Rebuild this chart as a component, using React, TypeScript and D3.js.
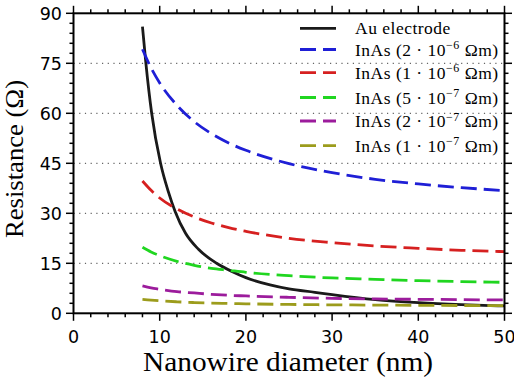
import React from "react";
import * as d3 from "d3";

const inasD = [8, 9, 10, 12, 14, 16, 18, 20, 25, 30, 35, 40, 45, 50];
const inas2e6 = [79.2, 73.6, 69.1, 62.4, 57.5, 53.9, 51.1, 48.9, 44.9, 42.2, 40.2, 38.8, 37.7, 36.8];
const inas1e6 = [39.7, 36.9, 34.6, 31.3, 28.9, 27.1, 25.7, 24.6, 22.5, 21.2, 20.2, 19.5, 18.9, 18.5];
const inas5e7 = [19.8, 18.4, 17.3, 15.6, 14.4, 13.5, 12.9, 12.3, 11.3, 10.6, 10.2, 9.8, 9.5, 9.3];
const inas2e7 = [8.2, 7.6, 7.2, 6.5, 6.1, 5.7, 5.4, 5.2, 4.8, 4.5, 4.3, 4.2, 4.1, 4.0];
const inas1e7 = [4.2, 3.95, 3.75, 3.45, 3.23, 3.07, 2.95, 2.85, 2.66, 2.54, 2.46, 2.39, 2.34, 2.3];

const auD = [8.0, 8.4, 9.07, 10.1, 11.0, 11.8, 13, 14.5, 16.6, 18.5, 20, 22.8, 25, 28, 30, 35, 40, 45, 50];
const auR = [86, 75, 60, 45, 36.5, 30.5, 24, 19.2, 15, 12.4, 10.7, 8.5, 7.3, 6.3, 5.6, 4.1, 3.2, 2.6, 2.2];

const xTicks = [0, 10, 20, 30, 40, 50];
const yTicks = [0, 15, 30, 45, 60, 75, 90];
const gridValues = [15, 30, 45, 60, 75];

const legendNames = ["Au electrode", "InAs", "InAs", "InAs", "InAs", "InAs"];
const legendMantissa = ["", "2", "1", "5", "2", "1"];
const legendExponent = ["", "−6", "−6", "−7", "−7", "−7"];
const colors = ["#1a1a1a", "#1f1fd6", "#d62020", "#20d620", "#9c1c9c", "#9c9c1c"];

const W = 514;
const H = 378;
const left = 73.5, right = 504.5, top = 13.3, bottom = 313.3;
const SERIF = "'Liberation Serif', 'Times New Roman', Times, serif";
const SANS = "'DejaVu Sans', sans-serif";

export default function App() {
  const x = d3.scaleLinear().domain([0, 50]).range([left, right]);
  const y = d3.scaleLinear().domain([0, 90]).range([bottom, top]);
  const line = d3
    .line<[number, number]>()
    .x((p) => x(p[0]))
    .y((p) => y(p[1]))
    .curve(d3.curveMonotoneX);

  const series: { pts: [number, number][]; dashed: boolean }[] = [
    { pts: auD.map((d, i) => [d, auR[i]] as [number, number]), dashed: false },
    ...[inas2e6, inas1e6, inas5e7, inas2e7, inas1e7].map((arr) => ({
      pts: inasD.map((d, i) => [d, arr[i]] as [number, number]),
      dashed: true,
    })),
  ];

  const xMinor = d3.range(0, 50.01, 2);
  const yMinor = d3.range(0, 90.01, 3);
  const legendRowY = [28.3, 49.5, 72.7, 97.5, 121, 145.7];

  return (
    <svg width={W} height={H} style={{ position: "absolute", left: 0, top: 0 }}>
      <rect x={0} y={0} width={W} height={H} fill="#fff" />
      {gridValues.map((g) => (
        <line
          key={"g" + g}
          x1={left}
          x2={right}
          y1={y(g)}
          y2={y(g)}
          stroke="#666"
          strokeWidth={1.2}
          strokeDasharray="1.2 4.5"
        />
      ))}
      <defs>
        <clipPath id="plotclip">
          <rect x={left} y={top} width={right - left} height={bottom - top} />
        </clipPath>
      </defs>
      <g clipPath="url(#plotclip)">
        {series.map((s, i) => (
          <path
            key={"s" + i}
            d={line(s.pts) || ""}
            fill="none"
            stroke={colors[i]}
            strokeWidth={2.8}
            strokeDasharray={s.dashed ? "16 7" : undefined}
          />
        ))}
      </g>
      <rect x={left} y={top} width={right - left} height={bottom - top} fill="none" stroke="#000" strokeWidth={2} />
      {xMinor.map((v) => (
        <g key={"xm" + v}>
          <line x1={x(v)} x2={x(v)} y1={bottom} y2={bottom + (v % 10 === 0 ? 7.5 : 4)} stroke="#000" strokeWidth={1.5} />
          <line x1={x(v)} x2={x(v)} y1={top} y2={top - (v % 10 === 0 ? 7.5 : 4)} stroke="#000" strokeWidth={1.5} />
        </g>
      ))}
      {yMinor.map((v) => (
        <g key={"ym" + v}>
          <line y1={y(v)} y2={y(v)} x1={left} x2={left - (v % 15 === 0 ? 7.5 : 4)} stroke="#000" strokeWidth={1.5} />
          <line y1={y(v)} y2={y(v)} x1={right} x2={right + (v % 15 === 0 ? 7.5 : 4)} stroke="#000" strokeWidth={1.5} />
        </g>
      ))}
      {xTicks.map((v) => (
        <text key={"xt" + v} x={x(v)} y={342.7} textAnchor="middle" fontFamily={SANS} fontSize={17.5} fill="#000">
          {v}
        </text>
      ))}
      {yTicks.map((v) => (
        <text key={"yt" + v} x={62} y={y(v) + 6.4} textAnchor="end" fontFamily={SANS} fontSize={17.5} fill="#000">
          {v}
        </text>
      ))}
      <text
        x={288}
        y={371}
        textAnchor="middle"
        fontFamily={SERIF}
        fontSize={26.5}
        textLength={290}
        lengthAdjust="spacingAndGlyphs"
        fill="#000"
      >
        Nanowire diameter (nm)
      </text>
      <text
        transform={`translate(23.3,159) rotate(-90)`}
        textAnchor="middle"
        fontFamily={SERIF}
        fontSize={25}
        textLength={158}
        lengthAdjust="spacingAndGlyphs"
        fill="#000"
      >
        Resistance (Ω)
      </text>
      {legendNames.map((name, i) => (
        <g key={"lg" + i}>
          <line
            x1={300}
            x2={336}
            y1={legendRowY[i]}
            y2={legendRowY[i]}
            stroke={colors[i]}
            strokeWidth={2.8}
            strokeDasharray={i === 0 ? undefined : "16 7"}
          />
          <text x={355} y={legendRowY[i] + 6} fontFamily={SERIF} fontSize={17.5} fill="#000" letterSpacing={0.5}>
            {i === 0 ? (
              name
            ) : (
              <>
                <tspan>{`${name} (${legendMantissa[i]} · 10`}</tspan>
                <tspan dy={-6.5} fontSize={12}>
                  {legendExponent[i]}
                </tspan>
                <tspan dy={6.5}>{" Ωm)"}</tspan>
              </>
            )}
          </text>
        </g>
      ))}
    </svg>
  );
}
